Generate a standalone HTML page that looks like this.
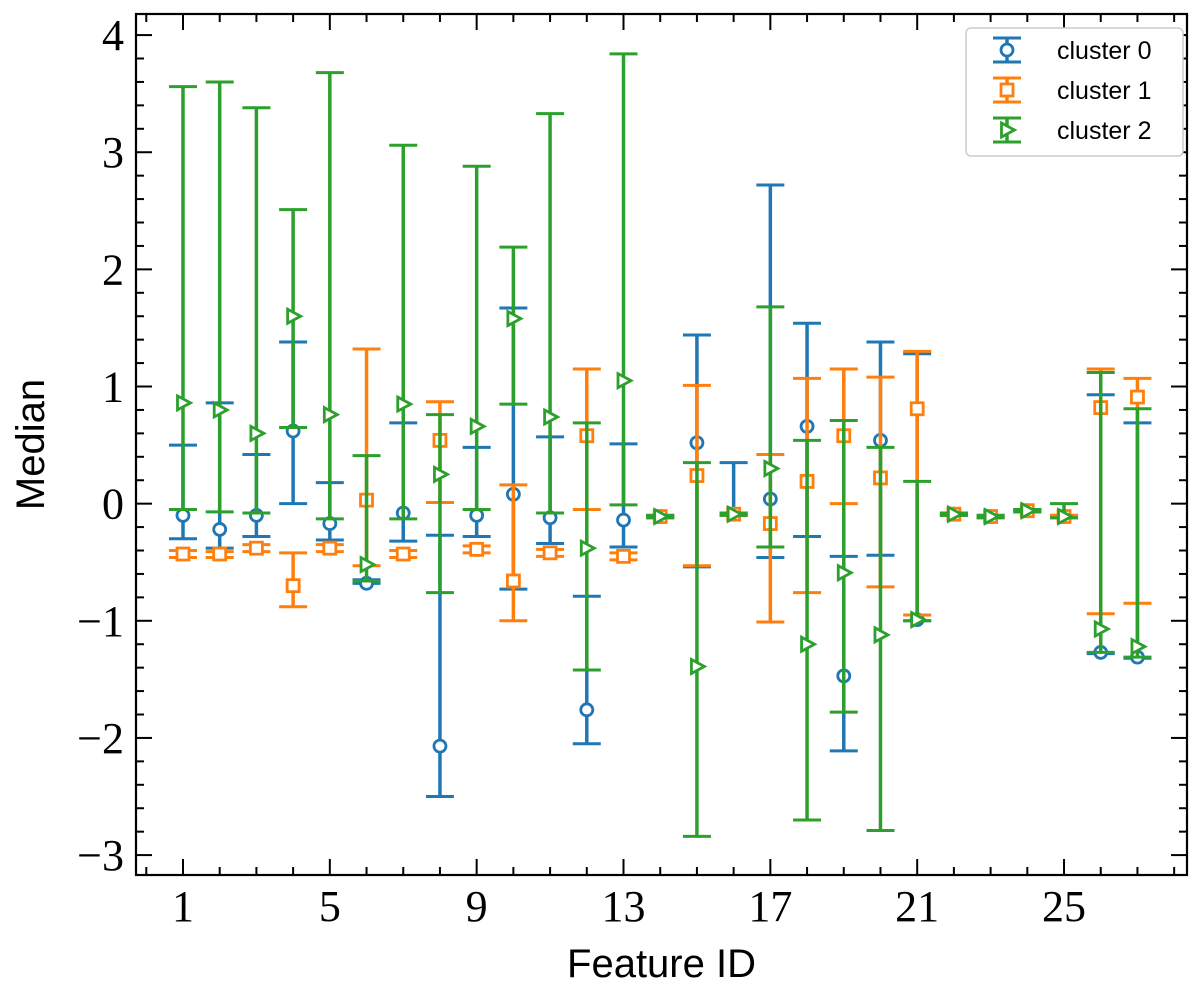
<!DOCTYPE html>
<html><head><meta charset="utf-8"><style>
body{margin:0;background:#fff}
svg text{font-family:"Liberation Serif",serif}
</style></head><body>
<svg id="chart" width="1200" height="993" viewBox="0 0 1200 993" xmlns="http://www.w3.org/2000/svg"></svg>
<script>
const features=[1,2,3,4,5,6,7,8,9,10,11,12,13,14,15,16,17,18,19,20,21,22,23,24,25,26,27];
const c0Median=[-0.1,-0.22,-0.1,0.62,-0.17,-0.68,-0.08,-2.07,-0.1,0.08,-0.12,-1.76,-0.14,-0.11,0.52,-0.09,0.04,0.66,-1.47,0.54,-0.99,-0.09,-0.11,-0.06,-0.11,-1.27,-1.31];
const c0Upper=[0.5,0.86,0.42,1.38,0.18,-0.65,0.69,-0.27,0.48,1.67,0.57,-0.79,0.51,-0.1,1.44,0.35,2.72,1.54,-0.45,1.38,1.28,-0.08,-0.1,-0.05,-0.1,0.93,0.69];
const c0Lower=[-0.3,-0.38,-0.28,0.0,-0.31,-0.68,-0.32,-2.5,-0.28,-0.73,-0.34,-2.05,-0.37,-0.12,-0.54,-0.1,-0.46,-0.28,-2.11,-0.44,-1.0,-0.1,-0.12,-0.07,-0.12,-1.28,-1.32];
const c1Median=[-0.43,-0.43,-0.38,-0.7,-0.38,0.03,-0.43,0.54,-0.39,-0.66,-0.42,0.58,-0.45,-0.11,0.24,-0.09,-0.17,0.19,0.58,0.22,0.81,-0.09,-0.11,-0.06,-0.11,0.82,0.91];
const c1Upper=[-0.4,-0.41,-0.35,-0.42,-0.35,1.32,-0.4,0.87,-0.36,0.16,-0.39,1.15,-0.42,-0.1,1.01,-0.08,0.42,1.07,1.15,1.08,1.3,-0.08,-0.1,-0.05,-0.1,1.15,1.07];
const c1Lower=[-0.46,-0.46,-0.41,-0.88,-0.41,-0.53,-0.46,0.01,-0.42,-1.0,-0.45,-0.05,-0.48,-0.12,-0.53,-0.1,-1.01,-0.76,0.0,-0.71,-0.95,-0.1,-0.12,-0.07,-0.12,-0.94,-0.85];
const c2Median=[0.86,0.8,0.6,1.6,0.76,-0.52,0.85,0.25,0.66,1.58,0.74,-0.38,1.05,-0.11,-1.39,-0.09,0.3,-1.2,-0.59,-1.12,-0.99,-0.09,-0.11,-0.06,-0.11,-1.07,-1.22];
const c2Upper=[3.56,3.6,3.38,2.51,3.68,0.41,3.06,0.76,2.88,2.19,3.33,0.69,3.84,-0.1,0.35,-0.08,1.68,0.54,0.71,0.48,0.19,-0.08,-0.1,-0.05,0.0,1.12,0.81];
const c2Lower=[-0.05,-0.07,-0.08,0.65,-0.13,-0.66,-0.13,-0.76,-0.05,0.85,-0.08,-1.42,-0.01,-0.12,-2.84,-0.1,-0.37,-2.7,-1.78,-2.79,-1.0,-0.1,-0.12,-0.07,-0.12,-1.27,-1.31];
const xTicks=[1,5,9,13,17,21,25];
const yTicks=[4,3,2,1,0,-1,-2,-3];
const yTickLabels=["4","3","2","1","0","\u22121","\u22122","\u22123"];

const L=136,R=1187,T=14,B=875;
const xMin=-0.28,xMax=28.35,yMin=-3.17,yMax=4.18;
const X=v=>L+(v-xMin)/(xMax-xMin)*(R-L);
const Y=v=>B-(v-yMin)/(yMax-yMin)*(B-T);
const svg=document.getElementById('chart');
const NS='http://www.w3.org/2000/svg';
function mk(tag,attrs,parent){const e=document.createElementNS(NS,tag);for(const k in attrs)e.setAttribute(k,attrs[k]);(parent||svg).appendChild(e);return e;}

const tg=mk('g',{});


for(let v=0;v<=28;v++){
  const len=(v-1)%4===0?16:8;
  mk('line',{x1:X(v),x2:X(v),y1:B,y2:B-len,stroke:'#000','stroke-width':2},tg);
  mk('line',{x1:X(v),x2:X(v),y1:T,y2:T+len,stroke:'#000','stroke-width':2},tg);
}
for(let i=-15;i<=20;i++){
  const v=i*0.2;if(v<yMin||v>yMax)continue;
  const len=(i%5===0)?16:8;
  mk('line',{x1:L,x2:L+len,y1:Y(v),y2:Y(v),stroke:'#000','stroke-width':2},tg);
  mk('line',{x1:R,x2:R-len,y1:Y(v),y2:Y(v),stroke:'#000','stroke-width':2},tg);
}
xTicks.forEach(v=>{const t=mk('text',{x:X(v),y:921,'text-anchor':'middle','font-size':44},tg);t.textContent=v;

});
yTicks.forEach((v,i)=>{const t=mk('text',{x:L-12,y:Y(v)+15,'text-anchor':'end','font-size':44},tg);t.textContent=yTickLabels[i];

});

const series=[
 {name:'cluster-0',color:'#1f77b4',m:c0Median,u:c0Upper,l:c0Lower,mark:'circle'},
 {name:'cluster-1',color:'#ff7f0e',m:c1Median,u:c1Upper,l:c1Lower,mark:'square'},
 {name:'cluster-2',color:'#2ca02c',m:c2Median,u:c2Upper,l:c2Lower,mark:'tri'}];
function marker(type,x,y,color,g){
  if(type==='circle')return mk('circle',{cx:x,cy:y,r:6,fill:'#fff',stroke:color,'stroke-width':2.8},g);
  if(type==='square')return mk('rect',{x:x-6,y:y-6,width:12,height:12,fill:'#fff',stroke:color,'stroke-width':2.8},g);
  return mk('polygon',{points:`${x+7.5},${y} ${x-5.5},${y-7} ${x-5.5},${y+7}`,fill:'#fff',stroke:color,'stroke-width':2.8},g);
}
series.forEach(s=>{
  const g=mk('g',{});
  
  
  features.forEach((f,i)=>{
    const x=X(f);
    mk('line',{x1:x,x2:x,y1:Y(s.u[i]),y2:Y(s.l[i]),stroke:s.color,'stroke-width':3.5},g);
    mk('line',{x1:x-14,x2:x+14,y1:Y(s.u[i]),y2:Y(s.u[i]),stroke:s.color,'stroke-width':3},g);
    mk('line',{x1:x-14,x2:x+14,y1:Y(s.l[i]),y2:Y(s.l[i]),stroke:s.color,'stroke-width':3},g);
  });
  features.forEach((f,i)=>{
    const m=marker(s.mark,X(f),Y(s.m[i]),s.color,g);
    
    
  });
});
mk('rect',{x:L,y:T,width:R-L,height:B-T,fill:'none',stroke:'#000','stroke-width':2.2});

const lg=mk('g',{});


mk('rect',{x:966,y:28,width:217,height:128,rx:5,fill:'#fff',stroke:'#ccc','stroke-width':1.5},lg);
series.forEach((s,i)=>{
  const y=50+i*40,x=1007;
  const eg=mk('g',{},lg);
  
  
  mk('line',{x1:x,x2:x,y1:y-12,y2:y+12,stroke:s.color,'stroke-width':3.5},eg);
  mk('line',{x1:x-14,x2:x+14,y1:y-12,y2:y-12,stroke:s.color,'stroke-width':3},eg);
  mk('line',{x1:x-14,x2:x+14,y1:y+12,y2:y+12,stroke:s.color,'stroke-width':3},eg);
  marker(s.mark,x,y,s.color,eg);
  const t=mk('text',{x:1057,y:y+9,'font-size':25},eg);
  t.style.fontFamily='"Liberation Sans",sans-serif';
  t.textContent='cluster '+i;
});
const xl=mk('text',{x:(L+R)/2,y:977,'text-anchor':'middle','font-size':40});
xl.style.fontFamily='"Liberation Sans",sans-serif';xl.textContent='Feature ID';


const yl=mk('text',{x:0,y:0,'text-anchor':'middle','font-size':40,transform:`translate(44,${(T+B)/2}) rotate(-90)`});
yl.style.fontFamily='"Liberation Sans",sans-serif';yl.textContent='Median';


</script>
</body></html>
